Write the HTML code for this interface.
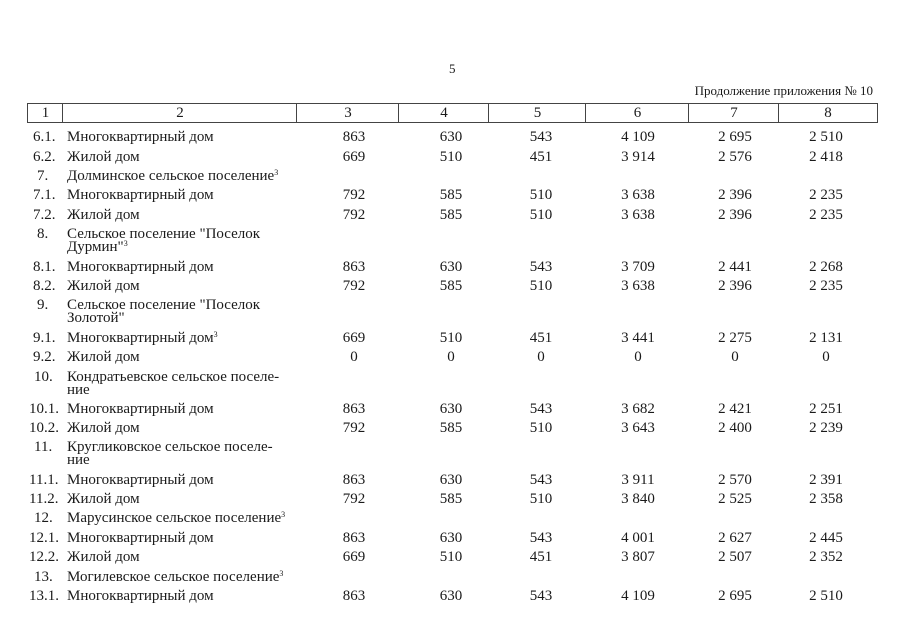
<!DOCTYPE html>
<html><head><meta charset="utf-8"><style>
body{margin:0;background:#fff;}
#p{position:relative;width:905px;height:640px;overflow:hidden;font-family:"Liberation Serif","DejaVu Serif",serif;font-size:15px;color:#1a1a1a;}
.a{position:absolute;white-space:nowrap;line-height:18px;}
.v{position:absolute;width:80px;text-align:center;line-height:18px;}
.h{position:absolute;top:103px;height:20px;border:1px solid #444;border-right:none;text-align:center;line-height:19px;box-sizing:border-box;}
.t{position:absolute;white-space:nowrap;line-height:12.5px;}
sup{font-size:8px;vertical-align:5px;line-height:0;}
#rows{position:absolute;left:0;top:1px;width:905px;height:640px;}
</style></head><body><div id="p">
<div class="a" style="left:449px;top:60px;font-size:13px">5</div>
<div class="a" style="right:32px;top:82px;font-size:13px">Продолжение приложения № 10</div>
<div class="h" style="left:27px;width:36px">1</div>
<div class="h" style="left:62px;width:235px">2</div>
<div class="h" style="left:296px;width:103px">3</div>
<div class="h" style="left:398px;width:91px">4</div>
<div class="h" style="left:488px;width:98px">5</div>
<div class="h" style="left:585px;width:104px">6</div>
<div class="h" style="left:688px;width:91px">7</div>
<div class="h" style="left:778px;width:100px;border-right:1px solid #444">8</div>
<div id="rows">
<div style="position:absolute;left:0;top:127px;width:905px">
<div class="a" style="left:33px;top:0">6.1.</div><div class="a" style="left:67px;top:0">Многоквартирный дом</div>
<div class="v" style="left:314px;top:0">863</div><div class="v" style="left:411px;top:0">630</div><div class="v" style="left:501px;top:0">543</div><div class="v" style="left:598px;top:0">4 109</div><div class="v" style="left:695px;top:0">2 695</div><div class="v" style="left:786px;top:0">2 510</div>
</div>
<div style="position:absolute;left:0;top:147px;width:905px">
<div class="a" style="left:33px;top:0">6.2.</div><div class="a" style="left:67px;top:0">Жилой дом</div>
<div class="v" style="left:314px;top:0">669</div><div class="v" style="left:411px;top:0">510</div><div class="v" style="left:501px;top:0">451</div><div class="v" style="left:598px;top:0">3 914</div><div class="v" style="left:695px;top:0">2 576</div><div class="v" style="left:786px;top:0">2 418</div>
</div>
<div style="position:absolute;left:0;top:166px;width:905px">
<div class="a" style="left:37px;top:0">7.</div><div class="a" style="left:67px;top:0">Долминское сельское поселение<sup>3</sup></div>
</div>
<div style="position:absolute;left:0;top:185px;width:905px">
<div class="a" style="left:33px;top:0">7.1.</div><div class="a" style="left:67px;top:0">Многоквартирный дом</div>
<div class="v" style="left:314px;top:0">792</div><div class="v" style="left:411px;top:0">585</div><div class="v" style="left:501px;top:0">510</div><div class="v" style="left:598px;top:0">3 638</div><div class="v" style="left:695px;top:0">2 396</div><div class="v" style="left:786px;top:0">2 235</div>
</div>
<div style="position:absolute;left:0;top:205px;width:905px">
<div class="a" style="left:33px;top:0">7.2.</div><div class="a" style="left:67px;top:0">Жилой дом</div>
<div class="v" style="left:314px;top:0">792</div><div class="v" style="left:411px;top:0">585</div><div class="v" style="left:501px;top:0">510</div><div class="v" style="left:598px;top:0">3 638</div><div class="v" style="left:695px;top:0">2 396</div><div class="v" style="left:786px;top:0">2 235</div>
</div>
<div style="position:absolute;left:0;top:224px;width:905px">
<div class="a" style="left:37px;top:0">8.</div><div class="t" style="left:67px;top:3px">Сельское поселение "Поселок<br>Дурмин"<sup>3</sup></div>
</div>
<div style="position:absolute;left:0;top:257px;width:905px">
<div class="a" style="left:33px;top:0">8.1.</div><div class="a" style="left:67px;top:0">Многоквартирный дом</div>
<div class="v" style="left:314px;top:0">863</div><div class="v" style="left:411px;top:0">630</div><div class="v" style="left:501px;top:0">543</div><div class="v" style="left:598px;top:0">3 709</div><div class="v" style="left:695px;top:0">2 441</div><div class="v" style="left:786px;top:0">2 268</div>
</div>
<div style="position:absolute;left:0;top:276px;width:905px">
<div class="a" style="left:33px;top:0">8.2.</div><div class="a" style="left:67px;top:0">Жилой дом</div>
<div class="v" style="left:314px;top:0">792</div><div class="v" style="left:411px;top:0">585</div><div class="v" style="left:501px;top:0">510</div><div class="v" style="left:598px;top:0">3 638</div><div class="v" style="left:695px;top:0">2 396</div><div class="v" style="left:786px;top:0">2 235</div>
</div>
<div style="position:absolute;left:0;top:295px;width:905px">
<div class="a" style="left:37px;top:0">9.</div><div class="t" style="left:67px;top:3px">Сельское поселение "Поселок<br>Золотой"</div>
</div>
<div style="position:absolute;left:0;top:328px;width:905px">
<div class="a" style="left:33px;top:0">9.1.</div><div class="a" style="left:67px;top:0">Многоквартирный дом<sup>3</sup></div>
<div class="v" style="left:314px;top:0">669</div><div class="v" style="left:411px;top:0">510</div><div class="v" style="left:501px;top:0">451</div><div class="v" style="left:598px;top:0">3 441</div><div class="v" style="left:695px;top:0">2 275</div><div class="v" style="left:786px;top:0">2 131</div>
</div>
<div style="position:absolute;left:0;top:347px;width:905px">
<div class="a" style="left:33px;top:0">9.2.</div><div class="a" style="left:67px;top:0">Жилой дом</div>
<div class="v" style="left:314px;top:0">0</div><div class="v" style="left:411px;top:0">0</div><div class="v" style="left:501px;top:0">0</div><div class="v" style="left:598px;top:0">0</div><div class="v" style="left:695px;top:0">0</div><div class="v" style="left:786px;top:0">0</div>
</div>
<div style="position:absolute;left:0;top:367px;width:905px">
<div class="a" style="left:34px;top:0">10.</div><div class="t" style="left:67px;top:3px">Кондратьевское сельское поселе-<br>ние</div>
</div>
<div style="position:absolute;left:0;top:399px;width:905px">
<div class="a" style="left:29px;top:0">10.1.</div><div class="a" style="left:67px;top:0">Многоквартирный дом</div>
<div class="v" style="left:314px;top:0">863</div><div class="v" style="left:411px;top:0">630</div><div class="v" style="left:501px;top:0">543</div><div class="v" style="left:598px;top:0">3 682</div><div class="v" style="left:695px;top:0">2 421</div><div class="v" style="left:786px;top:0">2 251</div>
</div>
<div style="position:absolute;left:0;top:418px;width:905px">
<div class="a" style="left:29px;top:0">10.2.</div><div class="a" style="left:67px;top:0">Жилой дом</div>
<div class="v" style="left:314px;top:0">792</div><div class="v" style="left:411px;top:0">585</div><div class="v" style="left:501px;top:0">510</div><div class="v" style="left:598px;top:0">3 643</div><div class="v" style="left:695px;top:0">2 400</div><div class="v" style="left:786px;top:0">2 239</div>
</div>
<div style="position:absolute;left:0;top:437px;width:905px">
<div class="a" style="left:34px;top:0">11.</div><div class="t" style="left:67px;top:3px">Кругликовское сельское поселе-<br>ние</div>
</div>
<div style="position:absolute;left:0;top:470px;width:905px">
<div class="a" style="left:29px;top:0">11.1.</div><div class="a" style="left:67px;top:0">Многоквартирный дом</div>
<div class="v" style="left:314px;top:0">863</div><div class="v" style="left:411px;top:0">630</div><div class="v" style="left:501px;top:0">543</div><div class="v" style="left:598px;top:0">3 911</div><div class="v" style="left:695px;top:0">2 570</div><div class="v" style="left:786px;top:0">2 391</div>
</div>
<div style="position:absolute;left:0;top:489px;width:905px">
<div class="a" style="left:29px;top:0">11.2.</div><div class="a" style="left:67px;top:0">Жилой дом</div>
<div class="v" style="left:314px;top:0">792</div><div class="v" style="left:411px;top:0">585</div><div class="v" style="left:501px;top:0">510</div><div class="v" style="left:598px;top:0">3 840</div><div class="v" style="left:695px;top:0">2 525</div><div class="v" style="left:786px;top:0">2 358</div>
</div>
<div style="position:absolute;left:0;top:508px;width:905px">
<div class="a" style="left:34px;top:0">12.</div><div class="a" style="left:67px;top:0">Марусинское сельское поселение<sup>3</sup></div>
</div>
<div style="position:absolute;left:0;top:528px;width:905px">
<div class="a" style="left:29px;top:0">12.1.</div><div class="a" style="left:67px;top:0">Многоквартирный дом</div>
<div class="v" style="left:314px;top:0">863</div><div class="v" style="left:411px;top:0">630</div><div class="v" style="left:501px;top:0">543</div><div class="v" style="left:598px;top:0">4 001</div><div class="v" style="left:695px;top:0">2 627</div><div class="v" style="left:786px;top:0">2 445</div>
</div>
<div style="position:absolute;left:0;top:547px;width:905px">
<div class="a" style="left:29px;top:0">12.2.</div><div class="a" style="left:67px;top:0">Жилой дом</div>
<div class="v" style="left:314px;top:0">669</div><div class="v" style="left:411px;top:0">510</div><div class="v" style="left:501px;top:0">451</div><div class="v" style="left:598px;top:0">3 807</div><div class="v" style="left:695px;top:0">2 507</div><div class="v" style="left:786px;top:0">2 352</div>
</div>
<div style="position:absolute;left:0;top:567px;width:905px">
<div class="a" style="left:34px;top:0">13.</div><div class="a" style="left:67px;top:0">Могилевское сельское поселение<sup>3</sup></div>
</div>
<div style="position:absolute;left:0;top:586px;width:905px">
<div class="a" style="left:29px;top:0">13.1.</div><div class="a" style="left:67px;top:0">Многоквартирный дом</div>
<div class="v" style="left:314px;top:0">863</div><div class="v" style="left:411px;top:0">630</div><div class="v" style="left:501px;top:0">543</div><div class="v" style="left:598px;top:0">4 109</div><div class="v" style="left:695px;top:0">2 695</div><div class="v" style="left:786px;top:0">2 510</div>
</div>
</div>
</div></body></html>
